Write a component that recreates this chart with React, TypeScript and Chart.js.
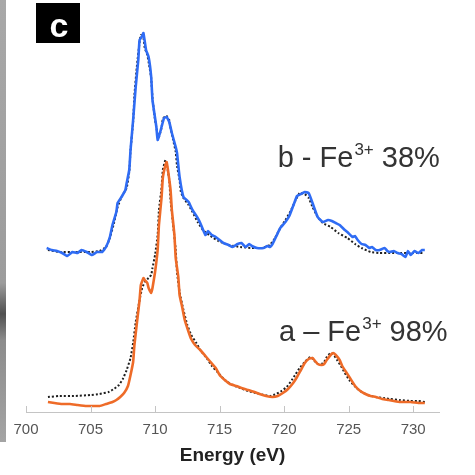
import { useEffect, useRef } from "react";
import { Chart, registerables } from "chart.js";

Chart.register(...registerables);

// Fe L2,3-edge spectra: measured (coloured) and fitted (dotted) intensities, arbitrary units
const energyB = [
  701.6, 702.0, 702.4, 702.8, 703.2, 703.6, 704.0, 704.3, 704.7, 705.1, 705.5, 705.9, 706.2, 706.5, 706.7,
  707.0, 707.1, 707.4, 707.7, 707.8, 708.0, 708.1, 708.3, 708.5, 708.7, 708.8, 709.0, 709.1, 709.3, 709.5,
  709.7, 709.8, 710.1, 710.2, 710.4, 710.5, 710.7, 710.9, 711.1, 711.3, 711.6, 711.7, 711.9, 712.2, 712.6,
  712.9, 713.3, 713.5, 713.9, 714.1, 714.4, 714.7, 715.0, 715.3, 715.7, 716.0, 716.4, 716.7, 717.0, 717.3,
  717.5, 717.9, 718.4, 718.7, 718.9, 719.1, 719.4, 719.7, 720.1, 720.4, 720.7, 721.0, 721.3, 721.6, 721.9,
  722.0, 722.2, 722.6, 723.0, 723.4, 723.7, 724.0, 724.3, 724.7, 724.9, 725.3, 725.5, 725.7, 726.0, 726.3,
  726.6, 726.8, 727.1, 727.4, 727.8, 728.0, 728.2, 728.5, 728.8, 729.1, 729.4, 729.6, 729.8, 730.1, 730.4,
  730.7, 730.9,
];
const measuredB = [
  82, 81, 80.5, 79.5, 78, 80, 79.5, 81, 80, 78.5, 80, 80, 82.5, 87.5, 93.5,
  100, 104.5, 107.5, 111, 114.5, 121, 131, 146, 162.5, 176, 186, 188, 189.5, 181, 177.5,
  167.5, 156, 142.5, 136, 140, 142.5, 147, 147.5, 145, 139.5, 132.5, 129.5, 117.5, 107.5, 105,
  101, 97, 94.5, 88.5, 90.5, 88.5, 87.5, 86, 84.5, 83.5, 82.5, 84, 84.5, 82.5, 84,
  83, 82, 82, 83, 82.5, 84, 88, 92, 95, 98, 103, 108, 109, 110, 109.5,
  108, 104.5, 97.5, 95, 96, 95.5, 94.5, 93.5, 91, 90, 87.5, 88, 86, 84, 83.5,
  82, 82.5, 81, 81, 82, 80.5, 80, 80.5, 79.5, 79, 77.5, 80.5, 78.5, 80.5, 79.5,
  81, 81,
];

const energyFitB = [
  701.7, 702.6, 703.8, 705.0, 705.7, 706.2, 706.5, 706.8, 707.1, 707.4, 707.8, 708.0, 708.1, 708.3, 708.4,
  708.6, 708.8, 708.9, 709.1, 709.2, 709.4, 709.5, 709.7, 709.8, 710.0, 710.2, 710.3, 710.5, 710.6, 710.8,
  710.9, 711.1, 711.2, 711.4, 711.6, 711.7, 711.9, 712.0, 712.2, 712.6, 712.9, 713.3, 713.7, 714.3, 714.9,
  715.7, 716.6, 717.5, 718.3, 718.9, 719.3, 719.7, 720.1, 720.5, 720.9, 721.2, 721.6, 721.9, 722.2, 722.6,
  723.0, 723.6, 724.2, 724.9, 725.5, 726.0, 726.7, 727.4, 728.2, 729.0, 730.0, 730.8,
];
const fitB = [
  81, 80, 80, 80, 80.5, 82.5, 87, 94, 102.5, 107.5, 112, 120, 131, 145, 158.5,
  173.5, 185, 188.5, 187, 182, 178.5, 175, 167, 157, 146, 139, 137.5, 142, 146.5, 148,
  148, 146, 142, 136, 130, 123, 116, 110, 107, 103.5, 100, 95, 91, 88, 85.5,
  83.5, 82.5, 82, 82, 83.5, 87, 92, 96, 100.5, 106, 109.5, 109, 107, 102.5, 97.5,
  94.5, 92.5, 89.5, 87, 84, 82, 80, 79.5, 79.5, 79.5, 79.5, 79.5,
];

const energyA = [
  701.7, 702.2, 702.8, 703.4, 704.0, 704.7, 705.3, 705.7, 706.2, 706.7, 707.0, 707.3, 707.6, 707.9, 708.1,
  708.3, 708.4, 708.6, 708.8, 708.9, 709.1, 709.2, 709.4, 709.5, 709.7, 709.8, 710.0, 710.2, 710.3, 710.5,
  710.6, 710.8, 710.9, 711.0, 711.2, 711.3, 711.5, 711.6, 711.8, 711.9, 712.1, 712.3, 712.6, 712.8, 713.1,
  713.5, 713.9, 714.3, 714.7, 715.0, 715.4, 715.8, 716.3, 716.7, 717.2, 717.7, 718.1, 718.6, 719.1, 719.5,
  719.9, 720.3, 720.7, 721.0, 721.3, 721.6, 721.9, 722.2, 722.4, 722.6, 722.9, 723.1, 723.3, 723.6, 723.8,
  724.0, 724.3, 724.5, 724.8, 725.1, 725.5, 725.9, 726.3, 726.7, 727.1, 727.6, 728.1, 728.5, 729.0, 729.8,
  730.4, 730.9,
];
const measuredA = [
  5, 4.5, 4, 4, 3.5, 3, 3, 3, 4, 5, 6, 7.5, 9.5, 13, 18.5,
  25, 33.5, 45, 56, 63.5, 67, 66, 64.5, 62, 59.5, 62, 70, 81, 93.5, 107,
  117, 123.5, 125, 121, 111, 101, 88.5, 77, 67.5, 58.5, 52.5, 46, 40, 36.5, 33.5,
  31, 28, 25, 22, 18.5, 16, 14, 13, 12, 11, 10, 9, 8, 7.5, 8,
  9.5, 11.5, 14.5, 17.5, 21, 24.5, 26.5, 27, 25.5, 24, 23.5, 24, 26, 28.5, 29.5,
  28.5, 26, 23, 20, 17, 13, 10.5, 9, 8, 7.5, 6.5, 6, 5.5, 5, 5,
  4.5, 4.5,
];

const energyFitA = [
  701.7, 702.6, 703.8, 705.0, 705.7, 706.4, 706.8, 707.2, 707.5, 707.8, 708.1, 708.3, 708.5, 708.8, 709.0,
  709.2, 709.5, 709.7, 709.8, 710.0, 710.2, 710.3, 710.5, 710.6, 710.8, 710.9, 711.1, 711.2, 711.4, 711.6,
  711.7, 711.9, 712.2, 712.5, 712.8, 713.2, 713.5, 714.0, 714.4, 714.9, 715.4, 716.0, 716.6, 717.2, 717.8,
  718.4, 718.9, 719.4, 719.8, 720.2, 720.6, 720.9, 721.2, 721.6, 721.9, 722.1, 722.3, 722.6, 722.9, 723.1,
  723.3, 723.6, 723.8, 724.1, 724.4, 724.7, 725.1, 725.6, 726.0, 726.5, 727.1, 727.7, 728.2, 729.0, 729.8,
  730.4, 730.9,
];
const fitA = [
  7.5, 8, 8, 8.5, 9, 10, 11.5, 13.5, 16.5, 21, 27, 34.5, 45, 56, 62,
  65, 67, 68.5, 72, 78.5, 88.5, 101, 112, 121, 126, 124, 116, 106, 93.5, 81,
  70, 60, 51, 43.5, 38.5, 34.5, 31, 27, 23, 19.5, 16, 13.5, 12, 10.5, 9.5,
  8.5, 8, 9, 10.5, 12.5, 16, 19, 22, 25, 27, 27.5, 26, 24, 24, 25,
  27.5, 29.5, 29, 26, 23, 19.5, 15.5, 12, 10, 8.5, 7.5, 7, 6.5, 6, 5.5,
  5.5, 5,
];

const tickValues = [700, 705, 710, 715, 720, 725, 730];
const xMin = 700;
const xMax = 732;
const yMax = 196;

const axisTitle = "Energy (eV)";
const panelLetter = "c";
const labelB = { prefix: "b - Fe", sup: "3+", suffix: " 38%", energy: 719.5, level: 122.5 };
const labelA = { prefix: "a \u2013 Fe", sup: "3+", suffix: " 98%", energy: 719.6, level: 35.5 };

const BLUE = "#2f6cf4";
const ORANGE = "#ee6b28";
const FIT = "#1f1f1f";
const AXIS_GREY = "#c4c4c4";
const FONT = "'Liberation Sans', Arial, Helvetica, sans-serif";

const pairs = (xs: number[], ys: number[]) => xs.map((x, i) => ({ x, y: ys[i] }));

function drawSpeciesLabel(ctx: CanvasRenderingContext2D, x: number, y: number, lab: typeof labelB) {
  ctx.save();
  ctx.fillStyle = "#333333";
  ctx.textBaseline = "alphabetic";
  ctx.textAlign = "left";
  ctx.font = `29px ${FONT}`;
  ctx.fillText(lab.prefix, x, y);
  let cx = x + ctx.measureText(lab.prefix).width + 1;
  ctx.font = `17px ${FONT}`;
  ctx.fillText(lab.sup, cx, y - 12);
  cx += ctx.measureText(lab.sup).width;
  ctx.font = `29px ${FONT}`;
  ctx.fillText(lab.suffix, cx, y);
  ctx.restore();
}

const decorPlugin = {
  id: "spectrumDecor",
  beforeDraw(chart: any) {
    const ctx: CanvasRenderingContext2D = chart.ctx;
    ctx.save();
    ctx.fillStyle = "#ffffff";
    ctx.fillRect(0, 0, chart.width, chart.height);
    // grey strip along the left edge
    const g = ctx.createLinearGradient(0, 0, 0, 442);
    g.addColorStop(0, "#a8a8a8");
    g.addColorStop(0.64, "#9c9c9c");
    g.addColorStop(0.71, "#505050");
    g.addColorStop(0.77, "#8c8c8c");
    g.addColorStop(1, "#a4a4a4");
    ctx.fillStyle = g;
    ctx.fillRect(0, 0, 6, 442);
    ctx.restore();
  },
  afterDraw(chart: any) {
    const ctx: CanvasRenderingContext2D = chart.ctx;
    const xs = chart.scales.x;
    const ys = chart.scales.y;
    const bottom = chart.chartArea.bottom;
    ctx.save();
    // inward tick marks
    ctx.strokeStyle = AXIS_GREY;
    ctx.lineWidth = 1;
    for (const v of tickValues) {
      const px = Math.round(xs.getPixelForValue(v)) + 0.5;
      ctx.beginPath();
      ctx.moveTo(px, bottom);
      ctx.lineTo(px, bottom - 6);
      ctx.stroke();
    }
    // panel letter
    ctx.fillStyle = "#000000";
    ctx.fillRect(36, 3, 44, 40);
    ctx.fillStyle = "#ffffff";
    ctx.font = `bold 34px ${FONT}`;
    ctx.textAlign = "center";
    ctx.textBaseline = "alphabetic";
    ctx.fillText(panelLetter, 59, 37);
    ctx.restore();

    drawSpeciesLabel(ctx, xs.getPixelForValue(labelB.energy), ys.getPixelForValue(labelB.level), labelB);
    drawSpeciesLabel(ctx, xs.getPixelForValue(labelA.energy), ys.getPixelForValue(labelA.level), labelA);
  },
};

export default function App() {
  const canvasRef = useRef<HTMLCanvasElement | null>(null);

  useEffect(() => {
    const canvas = canvasRef.current;
    if (!canvas) return;
    const line = (color: string, width: number) => ({
      borderColor: color,
      borderWidth: width,
      pointRadius: 0,
      fill: false,
      tension: 0.12,
    });
    const chart = new Chart(canvas, {
      type: "line",
      data: {
        datasets: [
          { label: "a measured", data: pairs(energyA, measuredA), ...line(ORANGE, 2.6) },
          { label: "b measured", data: pairs(energyB, measuredB), ...line(BLUE, 2.6) },
          { label: "a fit", data: pairs(energyFitA, fitA), ...line(FIT, 2), borderDash: [2, 2] },
          { label: "b fit", data: pairs(energyFitB, fitB), ...line(FIT, 2), borderDash: [2, 2] },
        ],
      },
      options: {
        responsive: false,
        animation: false,
        devicePixelRatio: 1,
        layout: { padding: { left: 26, right: 36, top: 20, bottom: 0 } },
        plugins: { legend: { display: false }, tooltip: { enabled: false } },
        scales: {
          x: {
            type: "linear",
            min: xMin,
            max: xMax,
            afterBuildTicks: (scale: any) => {
              scale.ticks = tickValues.map((value) => ({ value }));
            },
            afterFit: (scale: any) => {
              scale.height = 63;
            },
            grid: { display: false, drawTicks: false },
            border: { display: true, color: AXIS_GREY, width: 1 },
            ticks: {
              padding: 9,
              color: "#555555",
              font: { family: FONT, size: 15 },
              maxRotation: 0,
            },
            title: {
              display: true,
              text: axisTitle,
              color: "#222222",
              font: { family: FONT, size: 19, weight: "bold" },
              padding: { top: 0, bottom: 8 },
            },
          },
          y: { type: "linear", display: false, min: 0, max: yMax },
        },
      },
      plugins: [decorPlugin],
    });
    return () => chart.destroy();
  }, []);

  return (
    <div style={{ position: "absolute", left: 0, top: 0, width: 475, height: 475, background: "#fff" }}>
      <canvas ref={canvasRef} width={475} height={475} style={{ display: "block" }} />
    </div>
  );
}
